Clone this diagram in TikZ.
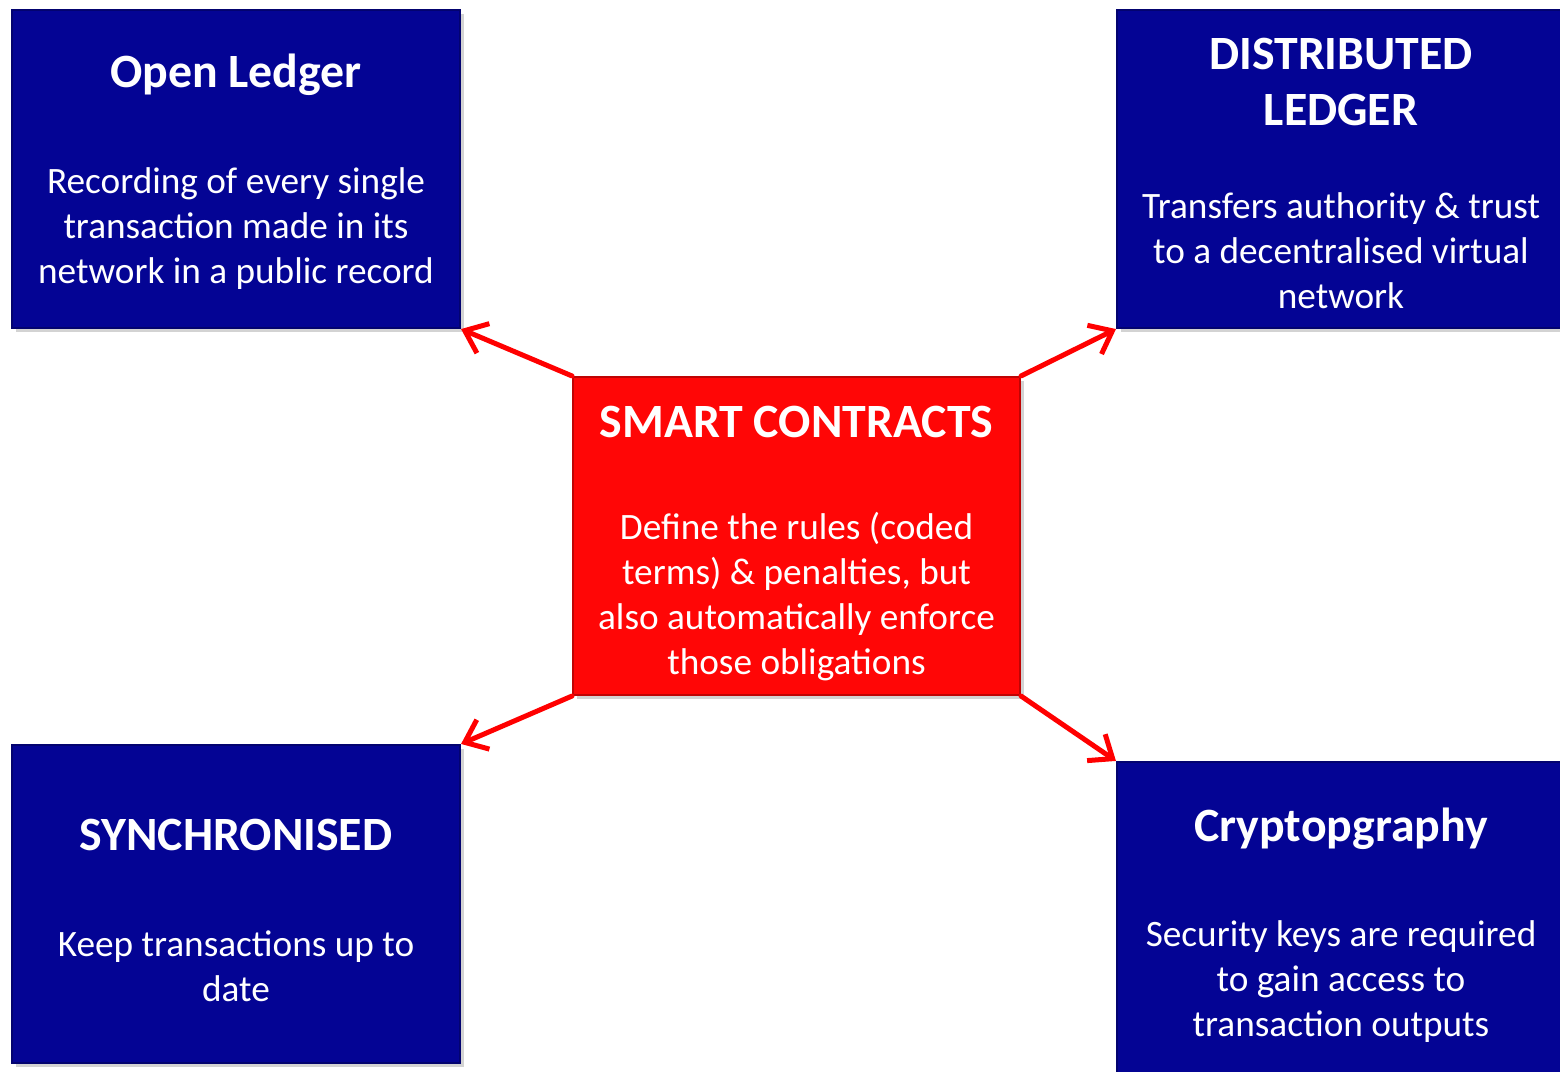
\documentclass[tikz,border=0pt]{standalone}
\usepackage{fontspec}
\setmainfont{Carlito}
\usetikzlibrary{arrows.meta,shadows}
\definecolor{boxblue}{RGB}{4,4,148}
\definecolor{boxred}{RGB}{255,6,6}

\begin{document}
\begin{tikzpicture}[
	box/.style={rectangle, minimum width=4.48cm, minimum height=3.18cm, fill=#1, draw=#1!75!black, line width=0.6pt,
		drop shadow={opacity=0.35, shadow xshift=0.04cm, shadow yshift=-0.04cm}},
	title/.style={text=white, align=center, font=\fontsize{13.6}{16.2}\selectfont\bfseries},
	body/.style={text=white, align=center, font=\fontsize{10.6}{12.8}\selectfont},
	link/.style={draw=red, line width=0.05cm, line cap=round, -{Straight Barb[length=2mm,width=3.2mm]}}
	]
	\useasboundingbox (0,0) rectangle (15.6,-10.72);

	% boxes
	\node[box=boxblue] (ledger) at (2.36,-1.69) {};
	\node[box=boxblue] (distributed) at (13.41,-1.69) {};
	\node[box=boxred, minimum width=4.47cm] (smart) at (7.965,-5.36) {};
	\node[box=boxblue] (synced) at (2.36,-9.04) {};
	\node[box=boxblue] (crypto) at (13.41,-9.21) {};

	% texts
	\node[title] (ledgertitle) at (2.36,-0.75) {Open Ledger};
	\node[body] (ledgertext) at (2.36,-2.29) {Recording of every single\\transaction made in its\\network in a public record};
	\node[title] (distributedtitle) at (13.41,-0.82) {DISTRIBUTED\\LEDGER};
	\node[body] (distributedtext) at (13.41,-2.51) {Transfers authority \& trust\\to a decentralised virtual\\network};
	\node[title] (smarttitle) at (7.965,-4.22) {SMART CONTRACTS};
	\node[body] (smarttext) at (7.965,-5.97) {Define the rules (coded\\terms) \& penalties, but\\also automatically enforce\\those obligations};
	\node[title] (syncedtitle) at (2.36,-8.35) {SYNCHRONISED};
	\node[body] (syncedtext) at (2.36,-9.66) {Keep transactions up to\\date};
	\node[title] (cryptotitle) at (13.41,-8.29) {Cryptopgraphy};
	\node[body] (cryptotext) at (13.41,-9.82) {Security keys are required\\to gain access to\\transaction outputs};

	% arrows
	\draw[link] (smart.north west) -- (ledger.south east);
	\draw[link] (smart.north east) -- (distributed.south west);
	\draw[link] (smart.south west) -- (synced.north east);
	\draw[link] (smart.south east) -- (crypto.north west);
\end{tikzpicture}
\end{document}
